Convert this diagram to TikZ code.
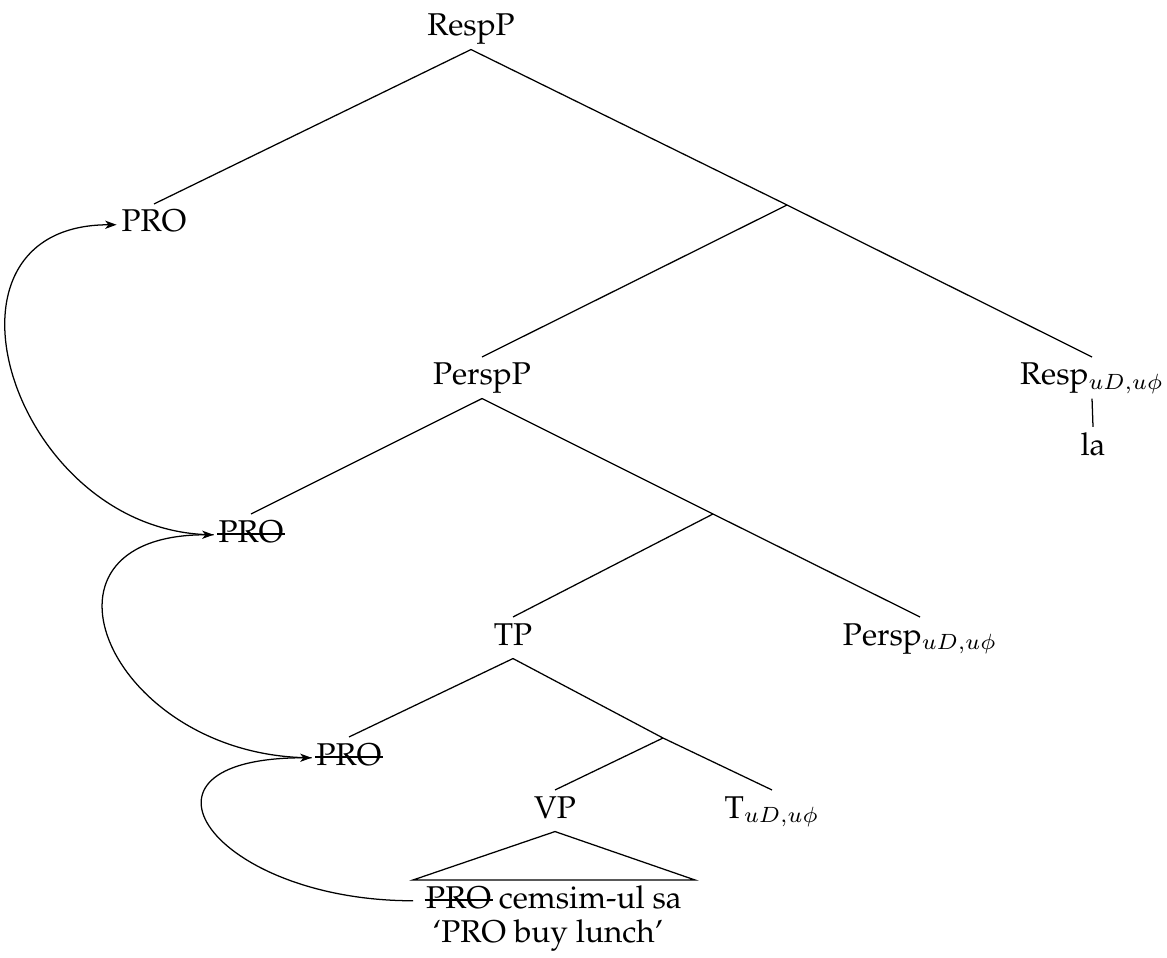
\documentclass[tikz,border=0pt]{standalone}
\usepackage[T1]{fontenc}
\usepackage{palatino}
\usetikzlibrary{arrows.meta, positioning}

% struck-out copy of a moved element
\newcommand{\struck}[1]{\setbox0\hbox{#1}\rlap{\kern-0.5pt\rule[2.2pt]{\dimexpr\wd0+1pt\relax}{0.6pt}}\box0\relax}

\begin{document}
\begin{tikzpicture}[
    x=0.3175pt, y=-0.3175pt,
    lab/.style={anchor=base, inner sep=1.4pt, text height=7.3pt, text depth=2.7pt},
    branch/.style={line width=0.4pt},
    move/.style={-{Stealth[length=3.6pt, width=2.6pt, inset=1pt]}, line width=0.4pt},
]
    \useasboundingbox (0,0) rectangle (1167,958);

    % Tree nodes
    \node[lab] (respp) at (471,36) {RespP};
    \node[lab] (pro1) at (154,232) {PRO};
    \coordinate (bar1) at (787,205);
    \node[lab] (perspp) at (482,385) {PerspP};
    \node[lab] (resp) at (1092,385) {Resp$_{uD,u\phi}$};
    \node[lab] (la) at (1093,455) {la};
    \node[lab] (pro2) at (251,542) {\struck{PRO}};
    \coordinate (bar2) at (713,514);
    \node[lab] (tp) at (513,645) {TP};
    \node[lab] (persp) at (920,645) {Persp$_{uD,u\phi}$};
    \node[lab] (pro3) at (349,765) {\struck{PRO}};
    \coordinate (bar3) at (663,738);
    \node[lab] (vp) at (555,818) {VP};
    \node[lab] (t) at (772,818) {T$_{uD,u\phi}$};
    \node[lab, inner xsep=4pt] (leaf) at (554,908) {\struck{PRO} cemsim-ul sa};
    \node[lab] (gloss) at (548,942) {`PRO buy lunch'};

    % Branches
    \draw[branch] (respp.south) -- (pro1.north);
    \draw[branch] (respp.south) -- (bar1) -- (resp.north);
    \draw[branch] (bar1) -- (perspp.north);
    \draw[branch] (resp.south) -- (la.north);
    \draw[branch] (perspp.south) -- (pro2.north);
    \draw[branch] (perspp.south) -- (bar2) -- (persp.north);
    \draw[branch] (bar2) -- (tp.north);
    \draw[branch] (tp.south) -- (pro3.north);
    \draw[branch] (tp.south) -- (bar3) -- (t.north);
    \draw[branch] (bar3) -- (vp.north);
    \draw[branch] (vp.south) -- (leaf.north west) -- (leaf.north east) -- cycle;

    % Movement arrows
    \draw[move] (pro2.west) .. controls +(-200,0) and +(-200,0) .. (pro1.west);
    \draw[move] (pro3.west) .. controls +(-200,0) and +(-200,0) .. (pro2.west);
    \draw[move] (leaf.west) .. controls +(-200,0) and +(-200,0) .. (pro3.west);
\end{tikzpicture}
\end{document}
